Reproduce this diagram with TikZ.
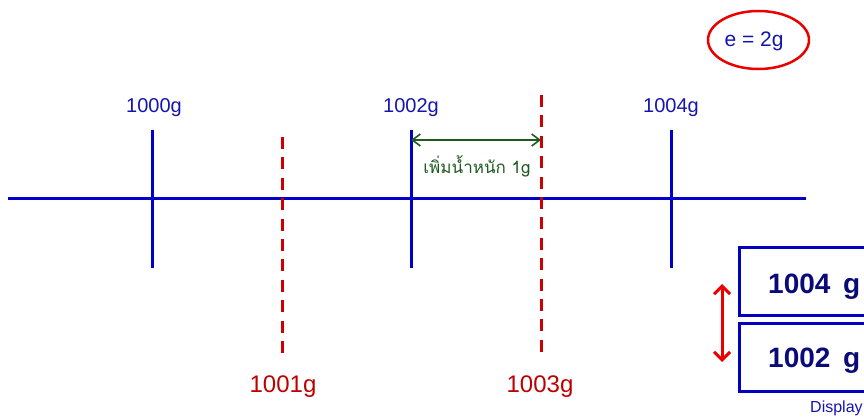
\documentclass[tikz,border=0pt]{standalone}
\usepackage{fontspec}
\setmainfont{Liberation Sans}
\newfontfamily\thaifont[Script=Thai]{Loma}
\usetikzlibrary{arrows.meta,shapes.geometric}
\definecolor{lineblue}{RGB}{0,0,205}
\definecolor{labblue}{RGB}{20,20,175}
\definecolor{dashred}{RGB}{204,0,0}
\definecolor{labred}{RGB}{190,0,0}
\definecolor{brightred}{RGB}{235,0,0}
\definecolor{darkgreen}{RGB}{30,90,30}
\definecolor{navy}{RGB}{10,10,120}
\definecolor{boxblue}{RGB}{0,0,190}
\tikzset{
  tickline/.style={draw=lineblue, line width=3pt},
  dashline/.style={draw=dashred, line width=3pt, dash pattern=on 12pt off 8.4pt},
  bluelab/.style={anchor=base, text=labblue, font=\fontsize{20}{22}\selectfont, inner sep=0pt},
  redlab/.style={anchor=base, text=labred, font=\fontsize{24}{26}\selectfont, inner sep=0pt},
  dispbox/.style={draw=boxblue, line width=3pt, minimum width=134pt, minimum height=68pt, inner sep=0pt},
  lcd/.style={anchor=base west, text=navy, font=\bfseries\fontsize{28}{30}\selectfont, inner sep=0pt},
}
\begin{document}
\begin{tikzpicture}[x=1pt,y=-1pt]
\useasboundingbox (0,0) rectangle (864,417);
\clip (0,0) rectangle (864,417);
% main axis
\coordinate (L) at (8,198);
\coordinate (R) at (806,198);
\draw[tickline] (L) -- (R);
% blue ticks
\coordinate (a0) at (152,130); \coordinate (b0) at (152,268);
\coordinate (a2) at (411,130); \coordinate (b2) at (411,268);
\coordinate (a4) at (671,130); \coordinate (b4) at (671,268);
\draw[tickline] (a0) -- (b0);
\draw[tickline] (a2) -- (b2);
\draw[tickline] (a4) -- (b4);
\node[bluelab] (l0) at (154,113) {1000g};
\node[bluelab] (l2) at (411,113) {1002g};
\node[bluelab] (l4) at (671,113) {1004g};
% red dashed
\coordinate (a1) at (282,137); \coordinate (b1) at (282,353);
\coordinate (a3) at (541,95); \coordinate (b3) at (541,353);
\draw[dashline] (a1) -- (b1);
\draw[dashline] (a3) -- (b3);
\node[redlab] (l1) at (283,392) {1001g};
\node[redlab] (l3) at (540,392) {1003g};
% green arrow
\coordinate (g1) at (411,140);
\coordinate (g2) at (541,140);
\draw[draw=darkgreen, line width=1.6pt, {Straight Barb[length=8pt,width=12pt]}-{Straight Barb[length=8pt,width=12pt]}] (g1) -- (g2);
\node[anchor=base, text=darkgreen, inner sep=0pt, font=\thaifont\fontsize{17}{19}\selectfont] (add) at (477,173) {เพิ่มน้ำหนัก 1g};
% e = 2g
\node[draw=brightred, line width=2.5pt, ellipse, minimum width=101pt, minimum height=58pt, inner sep=0pt] (ell) at (758.5,40) {};
\node[text=labblue, inner sep=0pt, font=\fontsize{21}{23}\selectfont] (e) at (754,41) {e = 2g};
% displays
\node[dispbox] (d1) at (806,281) {};
\node[dispbox] (d2) at (806,357) {};
\node[lcd] (n1) at (768,293) {1004};
\node[lcd] (u1) at (843,293) {g};
\node[lcd] (n2) at (768,367) {1002};
\node[lcd] (u2) at (843,367) {g};
\node[anchor=base west, text=labblue, inner sep=0pt, font=\fontsize{16}{17}\selectfont] (disp) at (810,412) {Display};
% red double arrow
\coordinate (r1) at (722,284);
\coordinate (r2) at (722,362);
\draw[draw=brightred, line width=3pt, {Straight Barb[length=8pt,width=16pt]}-{Straight Barb[length=8pt,width=16pt]}] (r1) -- (r2);
\end{tikzpicture}
\end{document}
